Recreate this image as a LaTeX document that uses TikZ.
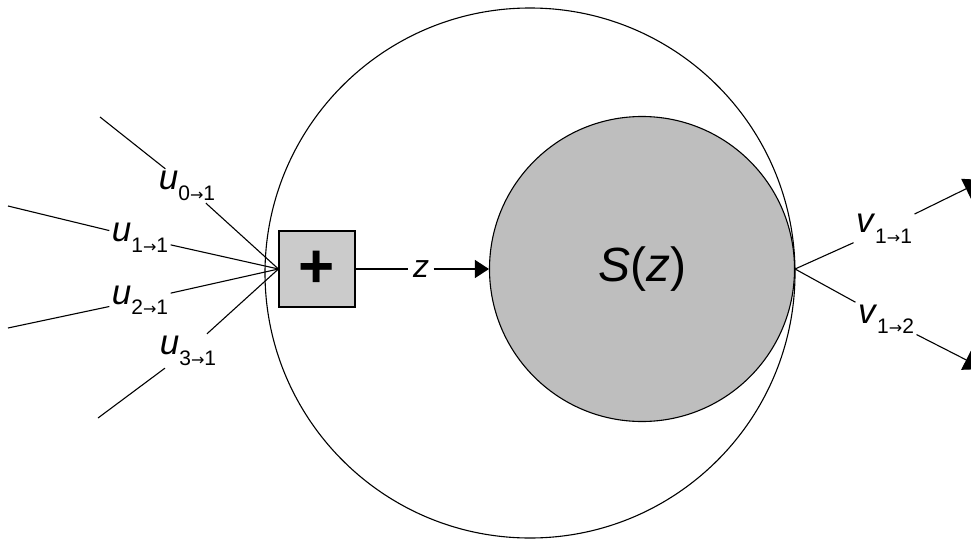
\documentclass[tikz,border=0pt]{standalone}
\usepackage{fontspec}
\setmainfont{Liberation Sans}
\newfontfamily\arrfont{DejaVu Sans}
\usetikzlibrary{arrows.meta}
\definecolor{circgray}{HTML}{BEBEBE}
\definecolor{boxgray}{HTML}{CBCBCB}
\newcommand{\mylbl}[3]{\textit{#1}\raisebox{-0.3em}{\fontsize{21}{21}\selectfont #2{\arrfont\fontsize{16}{16}\selectfont →}#3}}
\begin{document}
\begin{tikzpicture}[x=1pt,y=-1pt, line width=1.1pt,
  lab/.style={font=\fontsize{35}{38}\selectfont, inner sep=2pt},
  tip/.style={-{Triangle[length=20pt,width=22pt]}}]
\useasboundingbox (0,0) rectangle (971,538);
\fill[white] (0,0) rectangle (971,538);
\node[circle, draw, minimum size=530pt, inner sep=0pt] (outer) at (530,273) {};
\node[circle, draw, fill=circgray, minimum size=305pt, inner sep=0pt,
  font=\fontsize{48}{50}\selectfont] (S) at (642,269) {\textit{S}(\textit{z})};
\node[draw, fill=boxgray, minimum size=76pt, inner sep=0pt,
  font=\fontsize{62}{62}\selectfont\bfseries] (sum) at (317,269) {+};
% inputs
\coordinate (s0) at (100,117);
\coordinate (s1) at (8,206);
\coordinate (s2) at (8,328);
\coordinate (s3) at (98,418);
\node[lab] (l0) at (187,186) {\mylbl{u}{0}{1}};
\node[lab] (l1) at (140,238) {\mylbl{u}{1}{1}};
\node[lab] (l2) at (140,300) {\mylbl{u}{2}{1}};
\node[lab] (l3) at (188,351) {\mylbl{u}{3}{1}};
\foreach \i in {0,1,2,3}{
  \draw (s\i) -- (l\i);
  \draw (l\i) -- (sum.west);
}
% z
\node[lab, font=\fontsize{32}{34}\selectfont, inner sep=4pt] (zl) at (421,269) {\textit{z}};
\draw (sum.east) -- (zl);
\draw[-{Triangle[length=14pt,width=18pt]}] (zl) -- (S.west);
% outputs
\node[lab] (v1) at (884,229) {\mylbl{v}{1}{1}};
\node[lab] (v2) at (886,319) {\mylbl{v}{1}{2}};
\coordinate (t1) at (984,180);
\coordinate (t2) at (984,369);
\draw (S.east) -- (v1);
\draw (S.east) -- (v2);
\draw[tip] (v1) -- (t1);
\draw[tip] (v2) -- (t2);
\end{tikzpicture}
\end{document}
